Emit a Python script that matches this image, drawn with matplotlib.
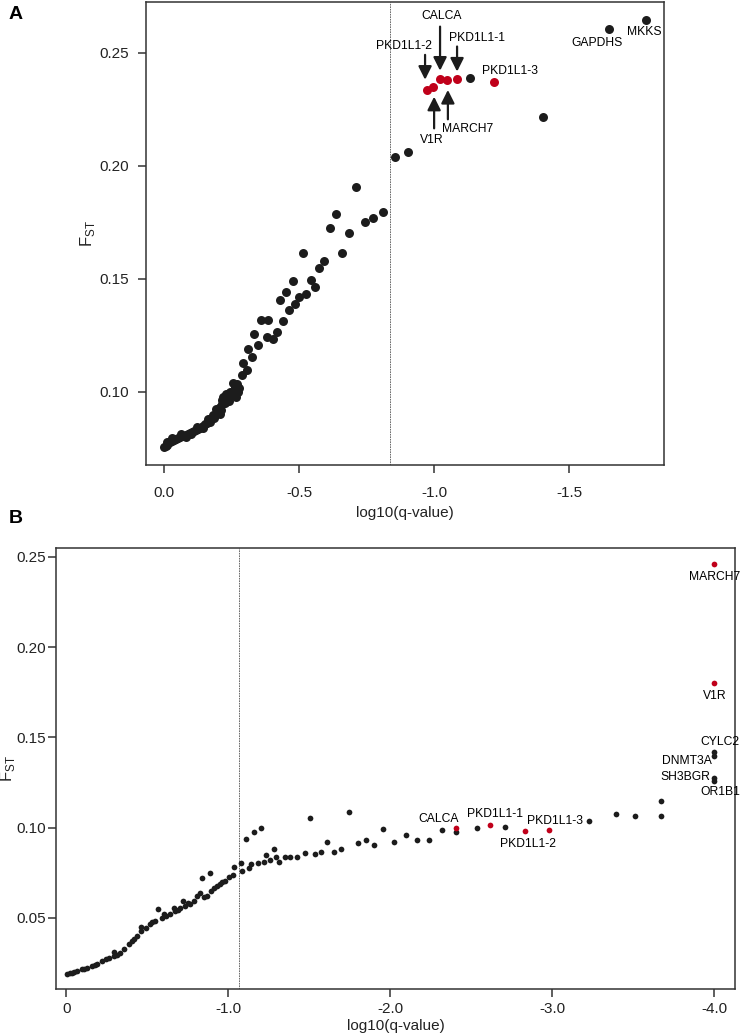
import numpy as np
import matplotlib.pyplot as plt

plt.rcParams['font.family'] = ['Liberation Sans', 'DejaVu Sans']
plt.rcParams['mathtext.fontset'] = 'custom'
plt.rcParams['mathtext.rm'] = 'Liberation Sans'

# Panel A data: log10(q-value) and Fst
a_black_q = [-1.783, -1.648, -1.133, -1.403, -0.904, -0.854, -0.711, -0.810, -0.774, -0.743,
             -0.636, -0.614, -0.685, -0.658, -0.513, -0.593, -0.574, -0.475, -0.542, -0.559,
             -0.450, -0.526, -0.499, -0.430, -0.484, -0.462, -0.440, -0.357, -0.384, -0.332,
             -0.416, -0.379, -0.401, -0.346, -0.311, -0.324, -0.293, -0.305, -0.287,
             -0.262, -0.274, -0.243, -0.270, -0.255, -0.250, -0.265, -0.278,
             -0.219, -0.230, -0.225, -0.215, -0.206, -0.210, -0.200, -0.195, -0.188, -0.181,
             -0.175, -0.170, -0.165, -0.157, -0.150, -0.145, -0.140, -0.132, -0.125, -0.118,
             -0.110, -0.102, -0.095, -0.088, -0.080, -0.072, -0.065, -0.058, -0.050, -0.042,
             -0.035, -0.028, -0.021, -0.015, -0.009, -0.005, 0.0,
             -0.190, -0.215, -0.235, -0.160, -0.120, -0.060, -0.030,
             -0.205, -0.185, -0.170, -0.145, -0.100, -0.080, -0.010, -0.240, -0.228]
a_black_f = [0.2646, 0.2604, 0.2389, 0.2214, 0.2062, 0.2037, 0.1904, 0.1797, 0.1769, 0.1752,
             0.1785, 0.1726, 0.1701, 0.1614, 0.1614, 0.1578, 0.1549, 0.1491, 0.1493, 0.1465,
             0.1442, 0.1432, 0.1420, 0.1407, 0.1387, 0.1360, 0.1312, 0.1316, 0.1319, 0.1254,
             0.1263, 0.1243, 0.1233, 0.1207, 0.1189, 0.1155, 0.1126, 0.1096, 0.1074,
             0.1022, 0.1000, 0.1000, 0.1035, 0.1040, 0.0985, 0.0975, 0.1015,
             0.0978, 0.0965, 0.0950, 0.0945, 0.0934, 0.0920, 0.0915, 0.0905, 0.0898, 0.0897,
             0.0885, 0.0880, 0.0872, 0.0860, 0.0855, 0.0850, 0.0845, 0.0838, 0.0835, 0.0830,
             0.0826, 0.0822, 0.0816, 0.0814, 0.0810, 0.0806, 0.0803, 0.0801, 0.0797, 0.0792,
             0.0788, 0.0783, 0.0779, 0.0772, 0.0766, 0.0760, 0.0757,
             0.0925, 0.0965, 0.0985, 0.0880, 0.0843, 0.0812, 0.0797,
             0.0900, 0.0882, 0.0868, 0.0840, 0.0812, 0.0800, 0.0778, 0.0960, 0.0988]
a_red_q = [-0.972, -0.996, -1.021, -1.048, -1.084, -1.219]
a_red_f = [0.2336, 0.2348, 0.2385, 0.2378, 0.2382, 0.2370]
a_cutoff = -0.836

# Panel B data
b_black_q = [-4.0, -4.0, -4.0, -4.0, -3.671, -3.671, -3.512, -3.393, -3.226, -2.708,
             -2.535, -2.405, -2.323, -2.237, -2.165, -2.099, -2.025, -1.955, -1.901, -1.852,
             -1.802, -1.745, -1.698, -1.650, -1.609, -1.572, -1.537, -1.506, -1.475, -1.424,
             -1.383, -1.352, -1.315, -1.296, -1.280, -1.255, -1.235, -1.218, -1.202, -1.183,
             -1.156, -1.142, -1.111, -1.128, -1.084, -1.080, -1.033, -1.029, -1.002, -0.981,
             -0.961, -0.930, -0.909, -0.885, -0.838, -0.868, -0.848, -0.807, -0.786, -0.765,
             -0.720, -0.735, -0.704, -0.673, -0.662, -0.642, -0.617, -0.591, -0.568, -0.549,
             -0.519, -0.494, -0.463, -0.463, -0.436, -0.416, -0.385, -0.358, -0.333, -0.292,
             -0.292, -0.261, -0.220, -0.189, -0.158, -0.128, -0.097, -0.066, -0.035, -0.004,
             -0.950, -0.895, -0.826, -0.750, -0.690, -0.600, -0.530, -0.405, -0.310, -0.245,
             -0.175, -0.110, -0.050, -0.020]
b_black_f = [0.1418, 0.1399, 0.1276, 0.1258, 0.1146, 0.1067, 0.1067, 0.1076, 0.1035, 0.1001,
             0.0996, 0.0975, 0.0989, 0.0929, 0.0933, 0.0958, 0.0922, 0.0992, 0.0905, 0.0933,
             0.0914, 0.1087, 0.0881, 0.0866, 0.0920, 0.0864, 0.0855, 0.1056, 0.0858, 0.0836,
             0.0836, 0.0840, 0.0810, 0.0836, 0.0883, 0.0822, 0.0851, 0.0808, 0.0996, 0.0806,
             0.0975, 0.0799, 0.0936, 0.0779, 0.0758, 0.0806, 0.0780, 0.0738, 0.0724, 0.0706,
             0.0697, 0.0678, 0.0665, 0.0747, 0.0721, 0.0623, 0.0613, 0.0623, 0.0595, 0.0576,
             0.0595, 0.0567, 0.0554, 0.0539, 0.0557, 0.0524, 0.0511, 0.0502, 0.0549, 0.0483,
             0.0465, 0.0446, 0.0452, 0.0428, 0.0400, 0.0381, 0.0353, 0.0326, 0.0307, 0.0312,
             0.0288, 0.0279, 0.0260, 0.0242, 0.0233, 0.0223, 0.0214, 0.0205, 0.0195, 0.0190,
             0.0690, 0.0650, 0.0640, 0.0580, 0.0545, 0.0520, 0.0475, 0.0370, 0.0295, 0.0270,
             0.0238, 0.0218, 0.0200, 0.0192]
b_red_q = [-4.0, -4.0, -2.405, -2.619, -2.831, -2.979]
b_red_f = [0.2461, 0.1802, 0.0998, 0.1016, 0.0979, 0.0985]
b_cutoff = -1.068

BLACK = '#1c1c1c'
RED = '#c0001a'
LABEL_FS = 8.7
TICK_FS = 11

fig = plt.figure(figsize=(7.47, 10.36), dpi=100)
axA = fig.add_axes([0.1954, 0.5512, 0.6934, 0.4469])
axB = fig.add_axes([0.075, 0.0454, 0.909, 0.4257])


def style_axes(ax, xpad, ypad, xlabpad, ylab_x):
    for s in ax.spines.values():
        s.set_linewidth(1.1)
        s.set_color('#333333')
    ax.tick_params(direction='out', length=5.5, width=1.1, color='#333333',
                   labelsize=TICK_FS, labelcolor='#222222')
    ax.tick_params(axis='x', pad=xpad)
    ax.tick_params(axis='y', pad=ypad)
    ax.set_xlabel('log10(q-value)', fontsize=11, color='#222222', labelpad=xlabpad)
    ax.set_ylabel(r'F$_{\mathrm{ST}}$', fontsize=12, color='#222222')
    ax.yaxis.set_label_coords(ylab_x, 0.5)


# Panel A
axA.scatter(a_black_q, a_black_f, s=42, color=BLACK, linewidths=0, zorder=3)
axA.scatter(a_red_q, a_red_f, s=42, color=RED, linewidths=0, zorder=3)
axA.axvline(a_cutoff, color='#555555', lw=0.6, ls=(0, (2, 1)), zorder=1)
axA.set_xlim(0.068, -1.85)
axA.set_ylim(0.0676, 0.2724)
axA.set_xticks([0, -0.5, -1.0, -1.5])
axA.set_xticklabels(['0.0', '-0.5', '-1.0', '-1.5'])
axA.set_yticks([0.10, 0.15, 0.20, 0.25])
axA.set_yticklabels(['0.10', '0.15', '0.20', '0.25'])
style_axes(axA, xpad=10, ypad=7, xlabpad=4, ylab_x=-0.095)

arrow = dict(arrowstyle='-|>,head_length=0.8,head_width=0.4', color=BLACK, lw=1.6,
             shrinkA=0, shrinkB=0)
# downward arrows
axA.annotate('', xy=(-0.9655, 0.2380), xytext=(-0.9655, 0.2490), arrowprops=arrow)
axA.annotate('', xy=(-1.021, 0.2420), xytext=(-1.021, 0.2615), arrowprops=arrow)
axA.annotate('', xy=(-1.084, 0.2416), xytext=(-1.084, 0.2527), arrowprops=arrow)
# upward arrows
axA.annotate('', xy=(-0.999, 0.2305), xytext=(-0.999, 0.2165), arrowprops=arrow)
axA.annotate('', xy=(-1.050, 0.2335), xytext=(-1.050, 0.2205), arrowprops=arrow)

axA.text(-1.027, 0.2662, 'CALCA', fontsize=LABEL_FS, ha='center', va='center')
axA.text(-0.886, 0.2531, 'PKD1L1-2', fontsize=LABEL_FS, ha='center', va='center')
axA.text(-1.157, 0.2566, 'PKD1L1-1', fontsize=LABEL_FS, ha='center', va='center')
axA.text(-1.280, 0.2419, 'PKD1L1-3', fontsize=LABEL_FS, ha='center', va='center')
axA.text(-0.990, 0.2114, 'V1R', fontsize=LABEL_FS, ha='center', va='center')
axA.text(-1.122, 0.2161, 'MARCH7', fontsize=LABEL_FS, ha='center', va='center')
axA.text(-1.601, 0.2542, 'GAPDHS', fontsize=LABEL_FS, ha='center', va='center')
axA.text(-1.778, 0.2589, 'MKKS', fontsize=LABEL_FS, ha='center', va='center')

# Panel B
axB.scatter(b_black_q, b_black_f, s=17, color=BLACK, linewidths=0, zorder=3)
axB.scatter(b_red_q, b_red_f, s=17, color=RED, linewidths=0, zorder=3)
axB.axvline(b_cutoff, color='#555555', lw=0.6, ls=(0, (2, 1)), zorder=1)
axB.set_xlim(0.064, -4.13)
axB.set_ylim(0.0106, 0.255)
axB.set_xticks([0, -1, -2, -3, -4])
axB.set_xticklabels(['0', '-1.0', '-2.0', '-3.0', '-4.0'])
axB.set_yticks([0.05, 0.10, 0.15, 0.20, 0.25])
axB.set_yticklabels(['0.05', '0.10', '0.15', '0.20', '0.25'])
style_axes(axB, xpad=4, ypad=2, xlabpad=2, ylab_x=-0.057)

axB.text(-4.006, 0.2387, 'MARCH7', fontsize=LABEL_FS, ha='center', va='center')
axB.text(-4.006, 0.1731, 'V1R', fontsize=LABEL_FS, ha='center', va='center')
axB.text(-4.037, 0.1477, 'CYLC2', fontsize=LABEL_FS, ha='center', va='center')
axB.text(-3.985, 0.1371, 'DNMT3A', fontsize=LABEL_FS, ha='right', va='center')
axB.text(-3.975, 0.1278, 'SH3BGR', fontsize=LABEL_FS, ha='right', va='center')
axB.text(-4.040, 0.1198, 'OR1B1', fontsize=LABEL_FS, ha='center', va='center')
axB.text(-2.298, 0.1050, 'CALCA', fontsize=LABEL_FS, ha='center', va='center')
axB.text(-2.648, 0.1078, 'PKD1L1-1', fontsize=LABEL_FS, ha='center', va='center')
axB.text(-3.019, 0.1037, 'PKD1L1-3', fontsize=LABEL_FS, ha='center', va='center')
axB.text(-2.854, 0.0910, 'PKD1L1-2', fontsize=LABEL_FS, ha='center', va='center')

fig.text(0.012, 0.994, 'A', fontsize=14, fontweight='bold', va='top')
fig.text(0.012, 0.508, 'B', fontsize=14, fontweight='bold', va='top')

fig.savefig('out.png', dpi=100)
